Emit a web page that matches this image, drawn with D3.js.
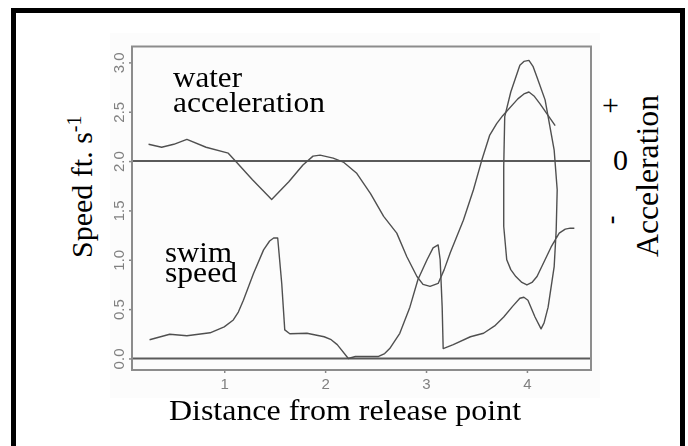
<!DOCTYPE html>
<html>
<head>
<meta charset="utf-8">
<script src="https://cdn.jsdelivr.net/npm/d3@7"></script>
<style>
  html, body { margin: 0; padding: 0; background: #fff; }
  svg { display: block; }
</style>
</head>
<body>
<svg id="chart" width="688" height="446"></svg>
<script>
// Distance from release point vs speed (left) and water acceleration (right).
const xTicks = [1, 2, 3, 4];
const yTicks = [0, 0.5, 1, 1.5, 2, 2.5, 3];
const yTickLabels = ["0.0", "0.5", "1.0", "1.5", "2.0", "2.5", "3.0"];
const refLines = [0, 2];   // zero speed, zero acceleration

// water acceleration trace: [distance, value]
const waterAccel = [
  [0.25,2.17],[0.38,2.14],[0.50,2.17],[0.63,2.22],[0.82,2.14],[1.04,2.08],[1.12,1.99],
  [1.28,1.81],[1.47,1.61],[1.64,1.79],[1.78,1.96],[1.88,2.05],[1.95,2.06],[2.08,2.03],
  [2.18,1.99],[2.31,1.88],[2.45,1.67],[2.58,1.44],[2.71,1.27],[2.81,1.03],[2.91,0.83],
  [2.97,0.75],[3.04,0.73],[3.12,0.76],[3.18,0.90],[3.24,1.07],[3.37,1.40],[3.47,1.71],
  [3.55,2.00],[3.63,2.26],[3.70,2.38],[3.76,2.46],[3.91,2.63],[3.97,2.68],[4.02,2.70],
  [4.07,2.66],[4.13,2.58],[4.28,2.36]
];

// swim speed trace, in path order (the track doubles back near 4)
const swimSpeed = [
  [0.26,0.19],[0.46,0.245],[0.63,0.23],[0.86,0.26],[1.00,0.32],[1.09,0.39],[1.14,0.47],
  [1.19,0.59],[1.29,0.86],[1.39,1.10],[1.45,1.19],[1.49,1.22],[1.53,1.22],[1.57,0.76],
  [1.60,0.29],[1.65,0.25],[1.82,0.255],[1.99,0.22],[2.06,0.19],[2.12,0.14],[2.23,0.00],
  [2.30,0.02],[2.53,0.02],[2.59,0.05],[2.64,0.10],[2.74,0.255],[2.84,0.52],[2.92,0.80],
  [3.01,1.00],[3.07,1.12],[3.12,1.15],[3.14,1.00],[3.16,0.52],[3.17,0.10],[3.27,0.14],
  [3.44,0.22],[3.57,0.255],[3.68,0.33],[3.77,0.42],[3.86,0.53],[3.93,0.61],[3.97,0.62],
  [4.01,0.59],[4.08,0.42],[4.14,0.30],[4.17,0.36],[4.21,0.52],[4.27,0.93],[4.29,1.30],
  [4.30,1.71],[4.27,2.11],[4.18,2.62],[4.10,2.85],[4.06,2.96],[4.02,3.02],[3.97,3.01],
  [3.93,2.97],[3.84,2.70],[3.78,2.45],[3.77,1.94],[3.77,1.34],[3.80,1.00],[3.84,0.90],
  [3.89,0.83],[3.95,0.77],[4.00,0.745],[4.05,0.77],[4.10,0.83],[4.24,1.13],[4.32,1.27],
  [4.38,1.31],[4.43,1.32],[4.47,1.32]
];

const svg = d3.select("#chart");
const serif = "'Liberation Serif', 'Times New Roman', serif";
const sans = "'Liberation Sans', Arial, sans-serif";

// plot region and axis limits
const box = { left: 132, right: 591, top: 46.5, bottom: 370 };
const x = d3.scaleLinear().domain([0.086, 4.635]).range([box.left, box.right]);
const y = d3.scaleLinear().domain([-0.117, 3.161]).range([box.bottom, box.top]);

// outer frame
svg.append("rect").attr("x", 13.5).attr("y", 10.5).attr("width", 669).attr("height", 460)
  .attr("fill", "none").attr("stroke", "#000").attr("stroke-width", 5);

// faint inset panel behind the plot
svg.append("rect").attr("x", 110).attr("y", 33).attr("width", 490).attr("height", 365)
  .attr("fill", "#fcfcfc");

const defs = svg.append("defs");
defs.append("filter").attr("id", "soft")
  .append("feGaussianBlur").attr("stdDeviation", 0.45);

const plot = svg.append("g").attr("filter", "url(#soft)");

// axes (ticks outward, grey labels, y labels rotated)
const yAxis = d3.axisLeft(y).tickValues(yTicks)
  .tickFormat((d, i) => yTickLabels[i]).tickSize(3).tickPadding(4);
const gy = plot.append("g").attr("transform", `translate(${box.left},0)`).call(yAxis);
gy.select(".domain").remove();
gy.selectAll(".tick line").attr("stroke", "#888").attr("stroke-width", 1.5);
gy.selectAll(".tick text")
  .attr("font-family", sans).attr("font-size", 15).attr("fill", "#808080")
  .attr("text-anchor", "middle").attr("x", 0).attr("dy", 0)
  .attr("transform", "translate(-14,0) rotate(-90)")
  .attr("dominant-baseline", "central");

const xAxis = d3.axisBottom(x).tickValues(xTicks).tickFormat(d3.format("d"))
  .tickSize(3).tickPadding(5);
const gx = plot.append("g").attr("transform", `translate(0,${box.bottom})`).call(xAxis);
gx.select(".domain").remove();
gx.selectAll(".tick line").attr("stroke", "#888").attr("stroke-width", 1.5);
gx.selectAll(".tick text").attr("font-family", sans).attr("font-size", 15)
  .attr("fill", "#808080");

// reference lines
plot.selectAll("line.ref").data(refLines).enter().append("line")
  .attr("class", "ref")
  .attr("x1", box.left).attr("x2", box.right)
  .attr("y1", d => y(d)).attr("y2", d => y(d))
  .attr("stroke", "#5a5a5a").attr("stroke-width", 2);

// plot box
plot.append("rect").attr("x", box.left).attr("y", box.top)
  .attr("width", box.right - box.left).attr("height", box.bottom - box.top)
  .attr("fill", "none").attr("stroke", "#8c8c8c").attr("stroke-width", 2);

// traces
const line = d3.line().x(d => x(d[0])).y(d => y(d[1]));
[waterAccel, swimSpeed].forEach(series => {
  plot.append("path").datum(series).attr("d", line)
    .attr("fill", "none").attr("stroke", "#505050").attr("stroke-width", 1.4)
    .attr("stroke-linejoin", "round");
});

// in-plot labels (two lines each, set tight)
function label(lines, px, py, gap) {
  const t = svg.append("text").attr("font-family", serif).attr("font-size", 30)
    .attr("fill", "#000").attr("lengthAdjust", "spacingAndGlyphs");
  lines.forEach((l, i) => {
    t.append("tspan").attr("x", px).attr("y", py + i * gap)
      .attr("textLength", l.len).attr("lengthAdjust", "spacingAndGlyphs").text(l.text);
  });
}
label([{ text: "water", len: 69 }, { text: "acceleration", len: 152 }], 173, 86.5, 25);
label([{ text: "swim", len: 67 }, { text: "speed", len: 72 }], 165, 261.5, 20);

// x axis title
svg.append("text").attr("x", 169).attr("y", 420)
  .attr("font-family", serif).attr("font-size", 30).attr("fill", "#000")
  .attr("textLength", 352).attr("lengthAdjust", "spacingAndGlyphs")
  .text("Distance from release point");

// left axis title
const yt = svg.append("text")
  .attr("transform", "translate(91.5,258) rotate(-90)")
  .attr("font-family", serif).attr("font-size", 30).attr("fill", "#000");
yt.append("tspan").text("Speed ft. s");
yt.append("tspan").attr("font-size", 20).attr("dy", -11).text("-1");

// right axis title and sign markers
svg.append("text")
  .attr("transform", "translate(658,257) rotate(-90)")
  .attr("font-family", serif).attr("font-size", 31).attr("fill", "#000")
  .attr("textLength", 162).attr("lengthAdjust", "spacingAndGlyphs")
  .text("Acceleration");
svg.append("text").attr("x", 610.5).attr("y", 115).attr("text-anchor", "middle")
  .attr("font-family", serif).attr("font-size", 30).attr("fill", "#000").text("+");
svg.append("text").attr("x", 620.5).attr("y", 170).attr("text-anchor", "middle")
  .attr("font-family", serif).attr("font-size", 30).attr("fill", "#000").text("0");
svg.append("text").attr("transform", "translate(619,220) rotate(-90)")
  .attr("text-anchor", "middle")
  .attr("font-family", serif).attr("font-size", 26).attr("font-weight", "bold")
  .attr("fill", "#000").text("-");
</script>
</body>
</html>
